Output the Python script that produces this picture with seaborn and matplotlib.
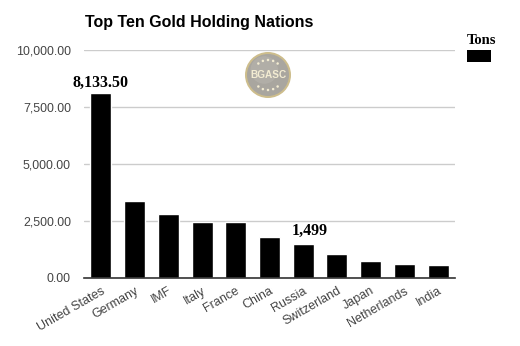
import matplotlib
matplotlib.use("Agg")
import matplotlib.pyplot as plt
import seaborn as sns
import pandas as pd
import numpy as np
from matplotlib.patches import Circle, Rectangle

# Gold reserves in tonnes
nations = ["United States", "Germany", "IMF", "Italy", "France", "China",
           "Russia", "Switzerland", "Japan", "Netherlands", "India"]
tons = [8133.5, 3381.0, 2814.0, 2451.8, 2435.4, 1808.0,
        1499.0, 1040.0, 765.2, 612.5, 557.7]
y_ticks = [0, 2500, 5000, 7500, 10000]
y_tick_labels = ["0.00", "2,500.00", "5,000.00", "7,500.00", "10,000.00"]

df = pd.DataFrame({"nation": nations, "tons": tons})

sns.set_theme(style="white")
plt.rcParams["font.family"] = ["Liberation Sans", "DejaVu Sans"]

W, H = 520, 346
fig = plt.figure(figsize=(W / 100, H / 100), dpi=100)
ax = fig.add_axes([84 / W, 1 - 278 / H, (455 - 84) / W, (278 - 50) / H])

sns.barplot(data=df, x="nation", y="tons", color="black", saturation=1,
            width=0.62, ax=ax, zorder=3)

ax.set_xlim(-0.5, len(nations) - 0.5)
ax.set_ylim(0, 10000)
ax.set_yticks(y_ticks)
ax.set_yticklabels(y_tick_labels)
ax.yaxis.grid(True, color="#cccccc", linewidth=1, zorder=0)
ax.set_axisbelow(True)
for side in ["top", "right", "left"]:
    ax.spines[side].set_visible(False)
ax.spines["bottom"].set_color("#333333")
ax.spines["bottom"].set_linewidth(1.2)
ax.spines["bottom"].set_zorder(4)
ax.tick_params(axis="y", length=0, pad=9.4, labelsize=8.9, labelcolor="#444444")
ax.tick_params(axis="x", length=0, pad=5, labelsize=9.0, labelcolor="#444444")
plt.setp(ax.get_xticklabels(), rotation=30, ha="right", rotation_mode="anchor")
ax.set_xlabel("")
ax.set_ylabel("")

# Title
fig.text(85 / W, 1 - 23 / H, "Top Ten Gold Holding Nations", fontsize=11.5,
         fontweight="bold", color="black", va="center", ha="left")

# Value callouts
serif = ["Liberation Serif", "DejaVu Serif"]
ax.text(0, tons[0] + 440, "8,133.50", family=serif, fontsize=11.5,
        fontweight="bold", ha="center", va="center", color="black")
ax.text(6.2, tons[6] + 560, f"{tons[6]:,.0f}", family=serif, fontsize=11.5,
        fontweight="bold", ha="center", va="center", color="black")

# Legend
fig.text(467 / W, 1 - 40 / H, "Tons", family=serif, fontsize=10.5,
         fontweight="bold", ha="left", va="center", color="black")
fig.add_artist(Rectangle((467 / W, 1 - 62 / H), 24 / W, 12 / H,
                         transform=fig.transFigure, facecolor="black",
                         edgecolor="none"))

# Coin logo
lax = fig.add_axes([(268 - 25) / W, 1 - (75 + 25) / H, 50 / W, 50 / H])
lax.set_xlim(-1, 1)
lax.set_ylim(-1, 1)
lax.set_aspect("equal")
lax.axis("off")
lax.add_patch(Circle((0, 0), 0.92, facecolor="#cdbd8c", edgecolor="none"))
lax.add_patch(Circle((0, 0), 0.84, facecolor="#a9a69f", edgecolor="none"))
lax.add_patch(Circle((-0.15, 0.2), 0.55, facecolor="#b8b5ae", edgecolor="none",
                     alpha=0.6))
lax.text(0, -0.02, "BGASC", ha="center", va="center", fontsize=7.2,
         fontweight="bold", color="#f3ecd2")
for ang in np.linspace(50, 130, 5):
    r = 0.6
    lax.add_patch(Circle((r * np.cos(np.radians(ang)), r * np.sin(np.radians(ang))),
                         0.05, facecolor="#f3ecd2", edgecolor="none"))
    lax.add_patch(Circle((r * np.cos(np.radians(-ang)), r * np.sin(np.radians(-ang))),
                         0.05, facecolor="#f3ecd2", edgecolor="none"))

fig.savefig("out.png", dpi=100, facecolor="white")
